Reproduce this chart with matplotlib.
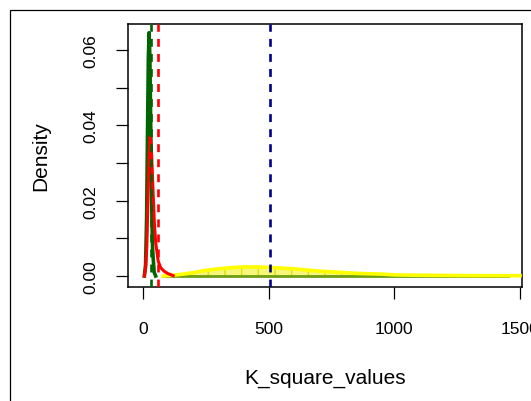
import matplotlib
matplotlib.use("Agg")
import matplotlib.pyplot as plt
from matplotlib.patches import Rectangle

plt.rcParams['font.family'] = ['Liberation Sans', 'DejaVu Sans']
plt.rcParams['hatch.linewidth'] = 1.0

# Data
green_x = [5, 10, 14, 18, 21, 24, 27, 30, 34, 38, 44, 50]
green_y = [0.000, 0.003, 0.015, 0.040, 0.058, 0.0646, 0.058, 0.042, 0.020, 0.007, 0.001, 0.000]

red_x = [5, 10, 15, 20, 25, 28, 32, 36, 40, 45, 50, 60, 70, 85, 100, 120]
red_y = [0.000, 0.002, 0.008, 0.022, 0.034, 0.0369, 0.035, 0.029, 0.022, 0.014,
         0.009, 0.004, 0.0022, 0.0012, 0.0006, 0.0001]

yellow_x = [80, 120, 160, 200, 250, 300, 350, 400, 450, 500, 550, 600, 650, 700,
            750, 800, 850, 900, 950, 1000, 1100, 1200, 1300, 1400, 1500]
yellow_y = [0.0000, 0.0002, 0.0005, 0.0009, 0.0015, 0.0019, 0.0022, 0.0024, 0.0024,
            0.0023, 0.0021, 0.0019, 0.0016, 0.0013, 0.0011, 0.0009, 0.0007, 0.0006,
            0.0005, 0.0003, 0.0002, 0.00015, 0.0001, 0.0001, 0.00008]

baseline_x = [80, 1452]
baseline_y = [0.0, 0.0]

vline_green = 32
vline_red = 60
vline_blue = 504

xticks = [0, 500, 1000, 1500]
yticks = [0.00, 0.01, 0.02, 0.03, 0.04, 0.05, 0.06]
ytick_labels = ['0.00', '', '0.02', '', '0.04', '', '0.06']

fig = plt.figure(figsize=(5.31, 4.02), dpi=100)
W, H = 531, 402
ax = fig.add_axes([128 / W, 1 - 288 / H, (522 - 128) / W, (288 - 25) / H])

# outer frame (device region border)
fig.patches.append(Rectangle((10 / W, -0.2), 1.2, 1 - 11 / H + 0.2,
                             transform=fig.transFigure, fill=False,
                             edgecolor='black', linewidth=0.9))

ax.fill_between(yellow_x, 0, yellow_y, facecolor='#f6f67a', edgecolor='#dede00',
                hatch='|', linewidth=0, zorder=1)
ax.plot(baseline_x, baseline_y, color='#6e9c12', linewidth=2.0, zorder=2)
ax.plot(yellow_x, yellow_y, color='#ffff00', linewidth=2.6, zorder=3)

ax.plot(green_x, green_y, color='#006400', linewidth=2.6, zorder=4)
ax.plot(red_x, red_y, color='#ff0000', linewidth=2.2, zorder=5)

dash = (3, 2.7)
ax.axvline(vline_green, color='#006400', linewidth=1.9, dashes=dash, zorder=6)
ax.axvline(vline_red, color='#ff0000', linewidth=1.9, dashes=dash, zorder=6)
ax.axvline(vline_blue, color='#00008b', linewidth=1.9, dashes=dash, zorder=6)

ax.set_xlim(-60, 1508)
ax.set_ylim(-0.00292, 0.0669)

ax.set_xticks(xticks)
ax.set_xticklabels([str(v) for v in xticks])
ax.set_yticks(yticks)
ax.set_yticklabels(ytick_labels, rotation=90, va='center')

ax.tick_params(axis='both', direction='out', length=8.5, width=0.9,
               labelsize=12.5, colors='black')
ax.tick_params(axis='x', pad=16)
ax.tick_params(axis='y', pad=13)

for s in ax.spines.values():
    s.set_linewidth(1.1)

ax.set_xlabel('K_square_values', fontsize=15, labelpad=23)
ax.set_ylabel('Density', fontsize=15, labelpad=24)

fig.savefig('out.png', dpi=100)
